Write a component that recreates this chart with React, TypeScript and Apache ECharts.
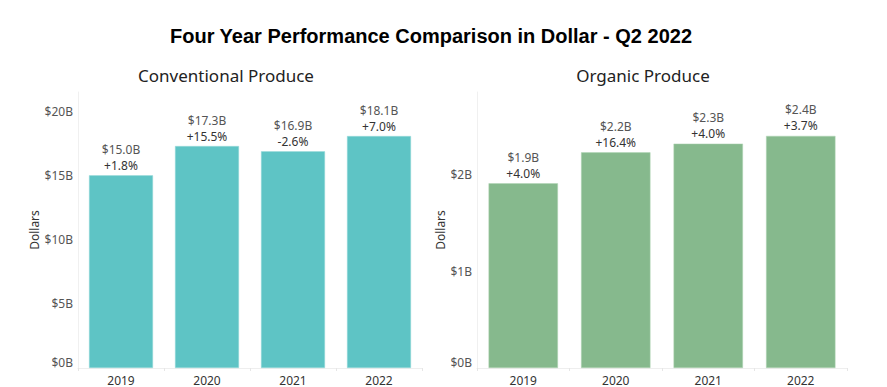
import React, { useEffect, useRef } from "react";
import * as echarts from "echarts";

const years = ["2019", "2020", "2021", "2022"];
const conventionalValues = [15.05, 17.34, 16.93, 18.12];
const conventionalLabels = ["$15.0B", "$17.3B", "$16.9B", "$18.1B"];
const conventionalChange = ["+1.8%", "+15.5%", "-2.6%", "+7.0%"];
const organicValues = [1.91, 2.23, 2.32, 2.4];
const organicLabels = ["$1.9B", "$2.2B", "$2.3B", "$2.4B"];
const organicChange = ["+4.0%", "+16.4%", "+4.0%", "+3.7%"];

const FONT = "'Noto Sans', 'DejaVu Sans', sans-serif";

export default function App() {
  const ref = useRef<HTMLDivElement>(null);
  useEffect(() => {
    const chart = echarts.init(ref.current!, null, { renderer: "svg" });
    const labelFor = (vals: string[], chg: string[]) => ({
      show: true,
      position: "top",
      distance: 2,
      formatter: (p: any) => `{a|${vals[p.dataIndex]}}\n{b|${chg[p.dataIndex]}}`,
      rich: {
        a: { fontSize: 12, color: "#555", lineHeight: 16, fontFamily: FONT },
        b: { fontSize: 12, color: "#333", lineHeight: 16, fontFamily: FONT },
      },
    });
    const xAxisBase = (gridIndex: number) => ({
      type: "category",
      gridIndex,
      data: years,
      axisLine: { show: true, lineStyle: { color: "#eeeeee" } },
      axisTick: { show: true, length: 3, lineStyle: { color: "#e6e6e6" } },
      axisLabel: { color: "#333", fontSize: 12, margin: 6, fontFamily: FONT },
    });
    const yAxisBase = (gridIndex: number, max: number, interval: number, nameGap: number) => ({
      type: "value",
      gridIndex,
      min: 0,
      max,
      interval,
      name: "Dollars",
      nameLocation: "middle",
      nameGap,
      nameTextStyle: { color: "#333", fontSize: 12, fontFamily: FONT },
      splitLine: { show: false },
      axisLine: { show: true, lineStyle: { color: "#f0f0f0" } },
      axisTick: { show: false },
      axisLabel: {
        color: "#555",
        fontSize: 12,
        margin: 5,
        fontFamily: FONT,
        showMaxLabel: false,
        verticalAlignMinLabel: "bottom",
        formatter: (v: number) => `$${v}B`,
      },
    });
    chart.setOption({
      animation: false,
      backgroundColor: "#ffffff",
      title: [
        {
          text: "Four Year Performance Comparison in Dollar - Q2 2022",
          left: 426,
          textAlign: "center",
          top: 21,
          textStyle: { fontFamily: "'Liberation Sans', Arial, sans-serif", fontWeight: "bold", fontSize: 20, color: "#000" },
        },
        {
          text: "Conventional Produce",
          left: 221,
          textAlign: "center",
          top: 62,
          textStyle: { fontFamily: FONT, fontWeight: "normal", fontSize: 17, color: "#222" },
        },
        {
          text: "Organic Produce",
          left: 638,
          textAlign: "center",
          top: 62,
          textStyle: { fontFamily: FONT, fontWeight: "normal", fontSize: 17, color: "#222" },
        },
      ],
      grid: [
        { left: 78, right: 465, top: 92, bottom: 19 },
        { left: 477, right: 40, top: 92, bottom: 19 },
      ],
      xAxis: [xAxisBase(0), xAxisBase(1)],
      yAxis: [yAxisBase(0, 21.56, 5, 36), yAxisBase(1, 2.854, 1, 29)],
      series: [
        {
          type: "bar",
          xAxisIndex: 0,
          yAxisIndex: 0,
          data: conventionalValues,
          barCategoryGap: "25.6%",
          itemStyle: { color: "#5EC4C5", borderColor: "#9ADADB", borderWidth: 0.5 },
          label: labelFor(conventionalLabels, conventionalChange),
        },
        {
          type: "bar",
          xAxisIndex: 1,
          yAxisIndex: 1,
          data: organicValues,
          barCategoryGap: "25%",
          itemStyle: { color: "#86B98D", borderColor: "#B0D4B5", borderWidth: 0.5 },
          label: labelFor(organicLabels, organicChange),
        },
      ],
    });
    return () => chart.dispose();
  }, []);
  return <div ref={ref} style={{ width: 887, height: 387, position: "absolute", left: 0, top: 0 }} />;
}
